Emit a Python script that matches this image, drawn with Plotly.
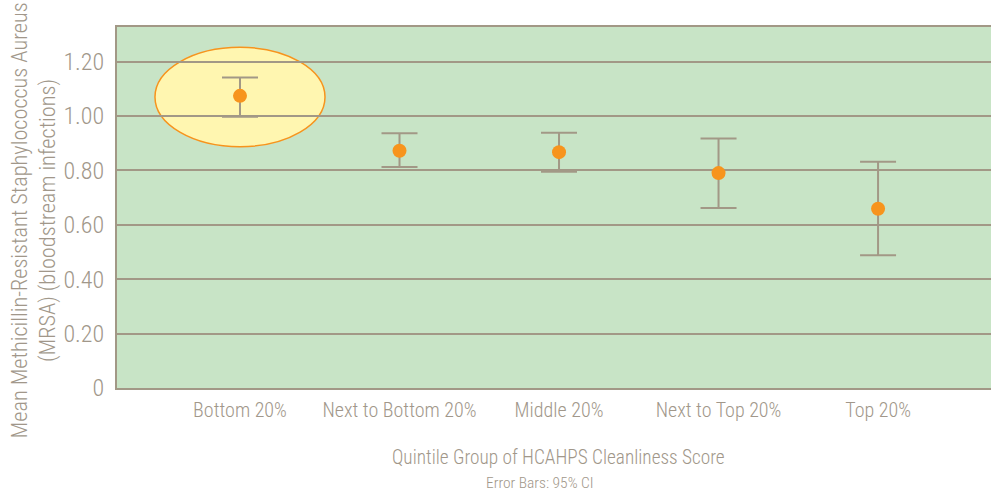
import plotly.graph_objects as go

categories = ["Bottom 20%", "Next to Bottom 20%", "Middle 20%", "Next to Top 20%", "Top 20%"]
means = [1.074, 0.872, 0.867, 0.790, 0.659]
upper = [1.141, 0.936, 0.938, 0.917, 0.832]
lower = [0.997, 0.812, 0.795, 0.662, 0.488]
ytick_vals = [0, 0.2, 0.4, 0.6, 0.8, 1.0, 1.2]
ytick_text = ["0", "0.20", "0.40", "0.60", "0.80", "1.00", "1.20"]

FONT = "Roboto Condensed, Liberation Sans Narrow, sans-serif"
TXT = "#A1978A"
LINE = "#A29886"
W = 300

xs = list(range(len(categories)))
err_plus = [u - m for u, m in zip(upper, means)]
err_minus = [m - l for m, l in zip(means, lower)]

fig = go.Figure()
fig.add_trace(go.Scatter(
    x=xs, y=means, mode="markers",
    marker=dict(color="#F7941D", size=14, line=dict(width=0)),
    error_y=dict(type="data", symmetric=False, array=err_plus, arrayminus=err_minus,
                 color=LINE, thickness=2, width=18),
    showlegend=False,
))

# highlight ellipse around the first group
fig.add_shape(type="circle", xref="x", yref="y",
              x0=xs[0] - 0.533, x1=xs[0] + 0.533, y0=0.887, y1=1.2525,
              fillcolor="#FFF6B0", line=dict(color="#F7941D", width=1.5), layer="below")

fig.update_layout(
    width=991, height=492,
    margin=dict(l=117, r=0, t=27, b=104),
    paper_bgcolor="white", plot_bgcolor="#C8E4C6",
    font=dict(family=FONT, color=TXT, weight=W),
    xaxis=dict(range=[-0.771, 4.708], tickvals=xs, ticktext=categories,
               showgrid=False, zeroline=False,
               showline=True, mirror=True, linecolor=LINE, linewidth=2,
               ticks="outside", ticklen=3, tickcolor="rgba(0,0,0,0)",
               tickfont=dict(size=20, color=TXT, weight=W)),
    yaxis=dict(range=[0, 1.327], tickvals=ytick_vals, ticktext=ytick_text,
               showgrid=True, gridcolor=LINE, gridwidth=1.5, zeroline=False,
               showline=True, linecolor=LINE, linewidth=2,
               ticks="outside", ticklen=6, tickcolor="rgba(0,0,0,0)",
               tickfont=dict(size=24, color=TXT, weight=W)),
)

fig.add_annotation(text="Mean Methicillin-Resistant Staphylococcus Aureus<br>(MRSA) (bloodstream infections)",
                   xref="paper", yref="paper", x=0, y=0.5, xshift=-84, yshift=-13,
                   textangle=-90, showarrow=False, xanchor="center", yanchor="middle",
                   font=dict(size=22.3, color=TXT, weight=W))
fig.add_annotation(text="Quintile Group of HCAHPS Cleanliness Score",
                   xref="paper", yref="paper", x=0.5057, y=0, yshift=-69,
                   showarrow=False, xanchor="center", yanchor="middle",
                   font=dict(size=19.3, color=TXT, weight=W))
fig.add_annotation(text="Error Bars: 95% CI",
                   xref="paper", yref="paper", x=0.484, y=0, yshift=-95,
                   showarrow=False, xanchor="center", yanchor="middle",
                   font=dict(size=15.5, color=TXT, weight=W))

fig.write_html("out.html", config={"displayModeBar": False},
               post_script="document.body.style.margin='0';")
